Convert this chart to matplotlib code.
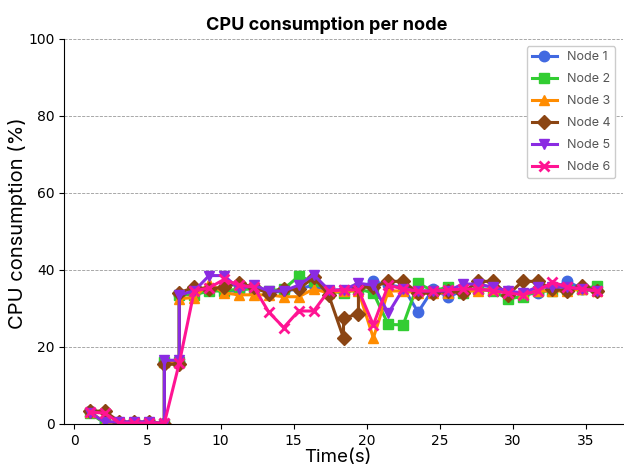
import numpy as np
import matplotlib
matplotlib.use("Agg")
import matplotlib.pyplot as plt

# sample timestamps (s), shared by all nodes
TIME = [1.05, 2.07, 3.09, 4.11, 5.13, 6.16, 7.18, 8.20, 9.22, 10.24,
        11.26, 12.28, 13.30, 14.32, 15.34, 16.37, 17.39, 18.41, 19.43, 20.45,
        21.47, 22.49, 23.51, 24.53, 25.55, 26.57, 27.60, 28.62, 29.64, 30.66,
        31.68, 32.70, 33.72, 34.74, 35.77]

# CPU % per node; a pair means two readings logged at the same timestamp
NODE1 = [3.2, 0.3, 0.3, 0.3, 0.3, (0, 16), (16, 33.5), 34, 35, 34.5,
         34.5, 35.5, 34, 34.5, 35, 36, 34.5, 34.5, 35, 37,
         36, 35.5, 29, 35, 33, 34.5, 35, 35, 34.5, 33.5,
         34, 35, 37, 35, 34.5]
NODE2 = [2.8, 0.2, 0.2, 0.2, 0.2, (0, 16), (16, 33.5), 33.5, 34.5, 34.5,
         35, 35, 34.5, 35, 38.3, 37, 34.5, 34, 35, 34,
         25.8, 25.7, 36.5, 34.5, 35.5, 34, 35, 34.5, 32.5, 33,
         34.5, 34.5, 35, 35, 35.8]
NODE3 = [3.0, 0.5, 0.3, 0.3, 0.3, (0, 16), (16, 32.5), 32.8, 36.5, 34,
         33.5, 33.5, 33.5, 33, 33, 35, 34, 34.5, 34.5, 22.3,
         34.5, 34.5, 34, 34, 34, 34.5, 34.5, 35, 34, 34,
         34.5, 34.5, 34.5, 35, 34.5]
NODE4 = [3.3, 3.3, 0.5, 0.5, 0.5, (0, 15.5), (15.5, 34), 35.5, 35, 35.5,
         36.5, 35.5, 33.8, 35, 35, 38, 33.5, (22.3, 27.5), (28.5, 35.5), 35.5,
         37, 37, 34, 34, 34.5, 34, 37, 37, 33.5, 37,
         37, 35, 34.5, 35.8, 34.5]
NODE5 = [2.9, 0.5, 0.5, 0.5, 0.5, (0, 16.5), (16.5, 33.5), 34.5, 38.5, 38.5,
         35, 36, 34.5, 34.5, 36, 38.7, 34.8, 34.8, 36.5, 36,
         28.7, 35, 34.5, 34.5, 34.5, 36.3, 36.3, 35.5, 34.5, 34,
         35.5, 35.5, 35.5, 35, 34.5]
NODE6 = [3.0, 2.8, 0.2, 0.2, 0.2, 0.2, 15.8, 34.5, 35.3, 37.5,
         36, 35.5, 29, 25, 29.3, 29.3, 34.5, 34.8, 34.8, 25.7,
         36, 35, 34.5, 34.5, 34.8, 35, 35, 34.5, 34, 33.5,
         34.5, 36.8, 35.5, 35, 34.5]

LABELS = ["Node 1", "Node 2", "Node 3", "Node 4", "Node 5", "Node 6"]
COLORS = ["royalblue", "limegreen", "darkorange", "saddlebrown", "blueviolet", "deeppink"]
MARKERS = ["o", "s", "^", "D", "v", "x"]


def expand(times, values):
    xs, ys = [], []
    for t, v in zip(times, values):
        for val in (v if isinstance(v, tuple) else (v,)):
            xs.append(t)
            ys.append(val)
    return xs, ys


fig = plt.figure(figsize=(6.24, 4.73), dpi=100)
ax = fig.add_axes([0.103, 0.104, 0.895, 0.814])

for vals, label, color, marker in zip([NODE1, NODE2, NODE3, NODE4, NODE5, NODE6],
                                      LABELS, COLORS, MARKERS):
    xs, ys = expand(TIME, vals)
    ax.plot(xs, ys, color=color, marker=marker, label=label,
            linewidth=2.2, markersize=7.5, markeredgewidth=2 if marker == "x" else 1)

ax.set_ylim(0, 100)
ax.set_yticks([0, 20, 40, 60, 80, 100])
ax.set_xticks([0, 5, 10, 15, 20, 25, 30, 35])
ax.grid(axis="y", linestyle="--", linewidth=0.6, color="gray", alpha=0.8)
ax.spines["top"].set_visible(False)
ax.spines["right"].set_visible(False)
ax.tick_params(labelsize=10)

ax.set_title("CPU consumption per node", family="Inter", fontweight="bold",
             fontsize=13, pad=6, x=0.47)
ax.set_xlabel("Time(s)", family="Inter", fontsize=13.5, labelpad=1, x=0.49)
ax.set_ylabel("CPU consumption (%)", family="Inter", fontsize=14.5, labelpad=1, y=0.52)

leg = ax.legend(loc="upper right", prop={"family": "Inter", "size": 9},
                labelcolor="#555555", framealpha=1, edgecolor="#cccccc",
                labelspacing=0.8, borderaxespad=0.6)

fig.savefig("out.png", dpi=100)
